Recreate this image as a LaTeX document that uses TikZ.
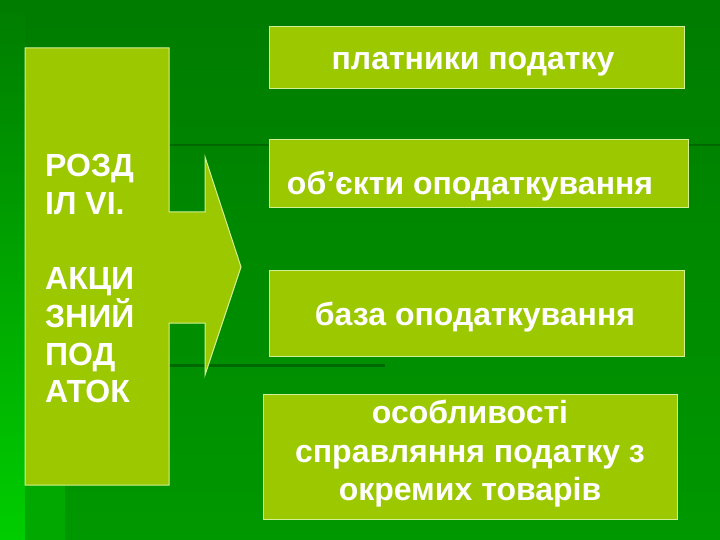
\documentclass[tikz,border=0pt]{standalone}
\usepackage{fontspec}
\setmainfont{Liberation Sans}
\definecolor{bgtop}{RGB}{0,124,0}
\definecolor{bgbot}{RGB}{0,152,0}
\definecolor{stripbot}{RGB}{0,205,0}
\definecolor{darkline}{RGB}{0,104,0}
\definecolor{boxfill}{RGB}{156,200,0}
\definecolor{boxline}{RGB}{210,240,150}
\tikzset{
  panel/.style={draw=boxline, line width=1pt, fill=boxfill},
  txt/.style={text=white, font=\bfseries\fontsize{32}{38.5}\selectfont, align=center, inner sep=0pt},
  lefttxt/.style={text=white, font=\bfseries\fontsize{32}{37.7}\selectfont, align=left, inner sep=0pt},
}
\begin{document}
\begin{tikzpicture}[x=1pt,y=-1pt]
\useasboundingbox (0,0) rectangle (720,540);
% background
\shade[top color=bgtop, bottom color=bgbot] (0,0) rectangle (720,540);
\shade[top color=bgtop, bottom color=stripbot] (0,0) rectangle (25,540);
\fill[color=bgbot!70!stripbot] (25,485) rectangle (65,540);
\draw[darkline, line width=2.5pt] (169,145) -- (720,145);
\draw[darkline, line width=3pt] (169,365) -- (385,365);
% big arrow
\draw[panel] (25,48) -- (169,48) -- (169,212) -- (205,212) -- (205,157)
  -- (241,267) -- (205,375) -- (205,323) -- (169,323) -- (169,485)
  -- (25,485) -- cycle;
\node[lefttxt, anchor=north west] (sect) at (45,154)
  {РОЗД\\ІЛ VІ.\\\mbox{}\\АКЦИ\\ЗНИЙ\\ПОД\\АТОК};
% boxes
\node[panel, minimum width=415pt, minimum height=62pt, anchor=north west] (b1) at (269,26) {};
\node[txt, anchor=base] (t1) at (473,70) {платники податку};
\node[panel, minimum width=419pt, minimum height=68pt, anchor=north west] (b2) at (269,139) {};
\node[txt, anchor=base] (t2) at (470,195) {об’єкти оподаткування};
\node[panel, minimum width=415pt, minimum height=86pt, anchor=north west] (b3) at (269,270) {};
\node[txt, anchor=base] (t3) at (475,325) {база оподаткування};
\node[panel, minimum width=414pt, minimum height=125pt, anchor=north west] (b4) at (263,394) {};
\node[txt, anchor=north] (t4) at (470,400) {особливості\\справляння податку з\\окремих товарів};
\end{tikzpicture}
\end{document}
